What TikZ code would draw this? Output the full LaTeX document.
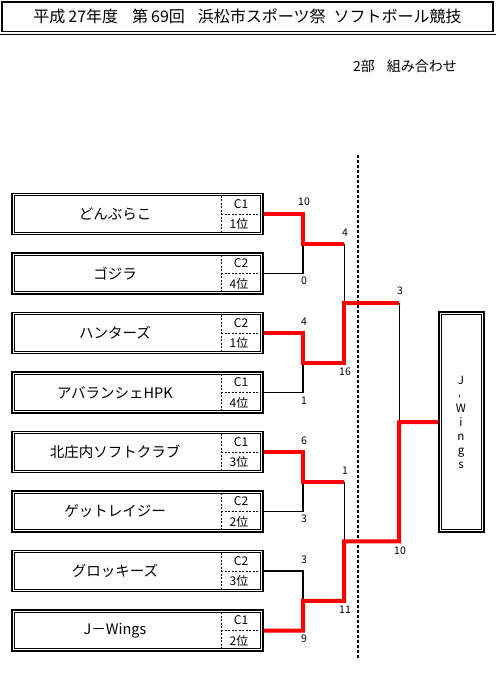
\documentclass[tikz,border=0pt]{standalone}
\usepackage{fontspec}
\setmainfont{Noto Sans CJK JP}
\usetikzlibrary{calc}
\definecolor{winred}{HTML}{FF0000}

\begin{document}
\begin{tikzpicture}[x=1pt,y=-1pt,
 team/.style={draw,line width=1.6pt,minimum width=251pt,minimum height=41pt,
   inner sep=0pt},
 champ/.style={draw,line width=1.6pt,minimum width=45pt,minimum height=220pt,
   inner sep=0pt},
 inner/.style={line width=0.7pt},
 cut/.style={line width=0.6pt,dash pattern=on 2pt off 1.5pt},
 teamname/.style={font=\fontsize{14.5}{15}\selectfont},
 grp/.style={font=\fontsize{12}{12}\selectfont,inner sep=0pt},
 score/.style={font=\fontsize{10.5}{11}\selectfont,inner sep=0pt},
 % Winners are traced in a heavy red line, the rest stay thin black.
 win/.style={winred,line width=4pt,line join=miter},
 lose/.style={line width=0.8pt},
 losev/.style={line width=1.7pt},
 sep/.style={line width=1.8pt,dash pattern=on 3pt off 2pt}]
\useasboundingbox (0,0) rectangle (496,683);

% Heading with its rule, and the division line
\node[draw,line width=1.6pt,minimum width=491pt,minimum height=29.5pt,
  font=\fontsize{16}{16}\selectfont] (title) at (247.5,16.8)
  {平成\hspace{3pt}27年度\hspace{14pt}第\hspace{3pt}69回\hspace{13pt}浜松市スポーツ祭\hspace{8pt}ソフトボール競技};
\draw[line width=1.2pt] (0,34.5) -- (496,34.5);
\node[font=\fontsize{14}{14}\selectfont] (part) at (405,66)
  {2部\hspace{12pt}組み合わせ};

% Team boxes, double framed, with group and rank on the right
\foreach \i/\nm/\cl/\rk in {1/どんぶらこ/C1/1位,2/ゴジラ/C2/4位,
    3/ハンターズ/C2/1位,4/アバランシェHPK/C1/4位,
    5/北庄内ソフトクラブ/C1/3位,6/ゲットレイジー/C2/2位,
    7/グロッキーズ/C2/3位,8/J－Wings/C1/2位}{
  \pgfmathsetmacro{\ty}{214+59.5*(\i-1)}
  \node[team] (t\i) at (137.5,\ty) {};
  \draw[inner] ([shift={(3,-3)}]t\i.south west)
    rectangle ([shift={(-3,3)}]t\i.north east);
  \draw[cut] ($(t\i.north)+(83.5,3)$) -- ($(t\i.south)+(83.5,-3)$);
  \draw[cut] ($(t\i.center)+(83.5,0)$) -- ($(t\i.east)+(-3,0)$);
  \node[teamname] (n\i) at (115,\ty) {\nm};
  \node[grp] (c\i) at (241,\ty-10) {\cl};
  \node[grp] (r\i) at (239,\ty+10) {\rk};
}

% Champion box
\node[champ] (ch) at (461.5,422) {};
\draw[inner] ([shift={(3,-3)}]ch.south west)
  rectangle ([shift={(-3,3)}]ch.north east);
\node[font=\fontsize{11.5}{14}\selectfont,align=center,inner sep=0pt] (chn)
  at (461,422.6) {J\\\rotatebox{90}{-}\\W\\i\\n\\g\\s};

% Bracket joints
\coordinate (j1) at (303,243.75);
\coordinate (j2) at (303,362.75);
\coordinate (j3) at (303,481.75);
\coordinate (j4) at (303,600.75);
\coordinate (a1) at (344,243.75);
\coordinate (a2) at (344,362.75);
\coordinate (a3) at (344,481.75);
\coordinate (a4) at (344,600.75);
\coordinate (k1) at (344,303.25);
\coordinate (k2) at (344,541.25);
\coordinate (b1) at (399,303.25);
\coordinate (b2) at (399,541.25);
\coordinate (f) at (399,422.25);

\draw[sep] (358,155) -- (358,658);

% Losing legs
\draw[lose] (t2.east) -- (t2.east -| j1);
\draw[losev] (t2.east -| j1) -- (j1);
\draw[lose] (t4.east) -- (t4.east -| j2);
\draw[losev] (t4.east -| j2) -- (j2);
\draw[lose] (t6.east) -- (t6.east -| j3);
\draw[losev] (t6.east -| j3) -- (j3);
\draw[losev] (t7.east) -- (t7.east -| j4) -- (j4);
\draw[lose] (a1) -- (k1);
\draw[lose] (a3) -- (k2);
\draw[lose] (b1) -- (f);

% Winning paths
\draw[win] (t1.east) -| (j1) -- (a1);
\draw[win] (t3.east) -| (j2) -- (a2) -- (k1) -- (b1);
\draw[win] (t5.east) -| (j3) -- (a3);
\draw[win] (t8.east) -| (j4) -- (a4) -- (k2) -- (b2) -- (f) -- (ch.west);

% Scores
\node[score] (s1) at (304,202) {10};
\node[score] (s2) at (304,281) {0};
\node[score] (s3) at (304,322) {4};
\node[score] (s4) at (304,401) {1};
\node[score] (s5) at (304,441) {6};
\node[score] (s6) at (304,519) {3};
\node[score] (s7) at (304,560) {3};
\node[score] (s8) at (304,639) {9};
\node[score] (s9) at (345,233) {4};
\node[score] (s10) at (345,372) {16};
\node[score] (s11) at (345,471) {1};
\node[score] (s12) at (345,610) {11};
\node[score] (s13) at (400,291) {3};
\node[score] (s14) at (400,551) {10};
\end{tikzpicture}
\end{document}
